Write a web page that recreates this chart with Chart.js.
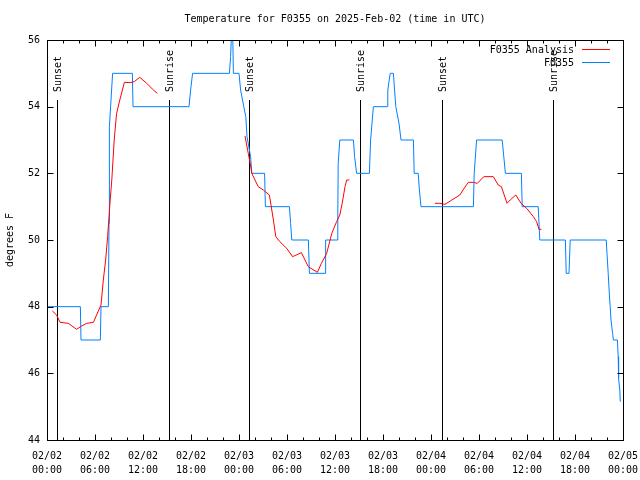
<!DOCTYPE html>
<html>
<head>
<meta charset="utf-8">
<script src="https://cdn.jsdelivr.net/npm/chart.js@4.4.1/dist/chart.umd.min.js"></script>
<style>
  body { margin: 0; background: #fff; }
  canvas { display: block; }
</style>
</head>
<body>
<canvas id="tempChart" width="640" height="480"></canvas>
<script>
const chartTitle = 'Temperature for F0355 on 2025-Feb-02 (time in UTC)';
const dayLabels = ['02/02', '02/03', '02/04', '02/05'];

// hours since 02/02 00:00 UTC
const obsHours = [0, 4.17, 4.25, 6.67, 6.75, 7.67, 7.75, 7.8, 7.95, 8.2, 10.67, 10.75, 17.75, 17.95, 18.2,
  22.8, 22.95, 23.1, 23.2, 23.3, 24, 24.2, 24.6, 24.85, 25.0, 25.45, 25.6, 27.2, 27.3, 30.3, 30.45, 30.6,
  32.67, 32.8, 34.75, 34.83, 36.3, 36.35, 36.4, 36.6, 38.3, 38.45, 38.7, 40.3, 40.45, 40.8, 42.5, 42.6,
  42.9, 43.3, 43.45, 43.6, 44.0, 44.25, 45.8, 45.9, 46.4, 46.55, 46.75, 53.3, 53.4, 53.7, 56.9, 57.3,
  59.3, 59.4, 61.4, 61.6, 64.8, 64.9, 65.25, 65.4, 69.9, 70.0, 70.15, 70.3, 70.4, 70.5, 70.7, 70.8,
  71.3, 71.4, 71.45, 71.6, 71.66];
const obsTemps = [48, 48, 47, 47, 48, 48, 50.5, 53.4, 54, 55, 55, 54, 54, 54.5, 55,
  55, 55.5, 56.4, 56.4, 55, 55, 54.5, 54, 53.7, 53.1, 52.5, 52, 52, 51, 51, 50.5, 50,
  50, 49, 49, 50, 50, 50.8, 52.3, 53, 53, 52.5, 52, 52, 53, 54, 54, 54.5,
  55, 55, 54.5, 54, 53.5, 53, 53, 52, 52, 51.5, 51, 51, 52, 53, 53, 52,
  52, 51, 51, 50, 50, 49, 49, 50, 50, 49.6, 49, 48.35, 48, 47.6, 47.2, 47,
  47, 46.5, 45.85, 45.5, 45.15];

const anaHours = [0.67, 1.2, 1.63, 2.67, 3.7, 4.33, 4.96, 5.8, 6.2, 6.75, 7.04, 7.33, 7.58, 7.9, 8.1,
  8.4, 8.7, 9.1, 9.67, 10.4, 10.9, 11.6, 12.46, 13.3, 13.8,
  20,
  24.75, 25.16, 25.4, 25.6, 26.4, 27.04, 27.8, 28.1, 28.3, 28.6, 29.1, 29.96, 30.7, 31.8, 32.66, 33.8,
  34.3, 34.96, 35.6, 36.2, 36.6, 36.9, 37.25, 37.46, 37.8,
  44,
  48.5, 49.1, 49.75, 50.4, 51.6, 52.0, 52.66, 53.3, 53.8, 54.6, 55.8, 56.4, 56.8, 57.5, 57.9, 58.6,
  59.25, 59.96, 60.8, 61.2, 61.5, 61.8];
const anaTemps = [47.87, 47.75, 47.53, 47.5, 47.32, 47.42, 47.5, 47.53, 47.75, 48.05, 48.8, 49.4, 50.1, 51.2, 51.8,
  53.0, 53.8, 54.2, 54.73, 54.72, 54.75, 54.88, 54.7, 54.5, 54.4,
  null,
  53.12, 52.6, 52.3, 52.0, 51.6, 51.5, 51.35, 50.9, 50.6, 50.1, 49.95, 49.75, 49.5, 49.62, 49.2, 49.03,
  49.3, 49.6, 50.2, 50.55, 50.75, 51.1, 51.6, 51.8, 51.8,
  null,
  51.1, 51.1, 51.07, 51.17, 51.35, 51.5, 51.73, 51.73, 51.7, 51.9, 51.9, 51.65, 51.6, 51.1, 51.2, 51.35,
  51.1, 50.95, 50.7, 50.55, 50.32, 50.32];

const sunHours = [1.28, 15.27, 25.28, 39.17, 49.32, 63.2];
const sunLabels = ['Sunset', 'Sunrise', 'Sunset', 'Sunrise', 'Sunset', 'Sunrise'];

const monoFont = '10px "DejaVu Sans Mono", monospace';
Chart.defaults.font.family = '"DejaVu Sans Mono", monospace';
Chart.defaults.font.size = 10;
Chart.defaults.color = '#000';

function toPoints(xs, ys) {
    return xs.map((x, i) => ({ x: x, y: ys[i] }));
}

function pad2(n) {
    return String(n).padStart(2, '0');
}

// gnuplot style frame, inward ticks, sun lines, title and key
const gnuplotDecor = {
    id: 'gnuplotDecor',
    beforeDatasetsDraw(chart) {
        const c = chart.ctx;
        const xs = chart.scales.x;
        const a = chart.chartArea;
        c.save();
        c.strokeStyle = '#000';
        c.lineWidth = 1;
        c.fillStyle = '#000';
        c.font = monoFont;
        sunHours.forEach((h, i) => {
            const px = Math.round(xs.getPixelForValue(h)) + 0.5;
            c.beginPath();
            c.moveTo(px, 100);
            c.lineTo(px, a.bottom);
            c.stroke();
            c.save();
            c.translate(px + 1, 92);
            c.rotate(-Math.PI / 2);
            c.textAlign = 'left';
            c.textBaseline = 'middle';
            c.fillText(sunLabels[i], 0, 0);
            c.restore();
        });
        c.restore();
    },
    afterDraw(chart) {
        const c = chart.ctx;
        const xs = chart.scales.x;
        const ys = chart.scales.y;
        const a = chart.chartArea;
        c.save();
        c.strokeStyle = '#000';
        c.fillStyle = '#000';
        c.lineWidth = 1;
        const L = Math.round(a.left) + 0.5, R = Math.round(a.right) + 0.5;
        const T = Math.round(a.top) + 0.5, B = Math.round(a.bottom) + 0.5;
        c.beginPath();
        for (let h = 0; h <= 72; h += 2) {
            const px = Math.round(xs.getPixelForValue(h)) + 0.5;
            const len = h % 6 === 0 ? 6 : 3;
            c.moveTo(px, B); c.lineTo(px, B - len);
            c.moveTo(px, T); c.lineTo(px, T + len);
        }
        for (let v = 44; v <= 56; v += 2) {
            const py = Math.round(ys.getPixelForValue(v)) + 0.5;
            c.moveTo(L, py); c.lineTo(L + 6, py);
            c.moveTo(R, py); c.lineTo(R - 6, py);
        }
        c.stroke();
        c.strokeRect(L, T, R - L, B - T);

        c.font = monoFont;
        c.textAlign = 'center';
        c.textBaseline = 'middle';
        c.fillText(chartTitle, 335, 19);

        c.save();
        c.translate(10, 240);
        c.rotate(-Math.PI / 2);
        c.fillText('degrees F', 0, 0);
        c.restore();

        // key
        c.textAlign = 'right';
        chart.data.datasets.forEach((ds, i) => {
            const y = 50 + i * 13;
            c.fillStyle = '#000';
            c.fillText(ds.label, 574, y);
            c.strokeStyle = ds.borderColor;
            c.beginPath();
            c.moveTo(582, y - 0.5);
            c.lineTo(610, y - 0.5);
            c.stroke();
        });
        c.restore();
    }
};

new Chart(document.getElementById('tempChart'), {
    type: 'line',
    data: {
        datasets: [
            {
                label: 'F0355 Analysis',
                data: toPoints(anaHours, anaTemps),
                borderColor: '#ff0000',
                borderWidth: 1,
                pointRadius: 0,
                tension: 0,
                spanGaps: false
            },
            {
                label: 'F0355',
                data: toPoints(obsHours, obsTemps),
                borderColor: '#0080ff',
                borderWidth: 1,
                pointRadius: 0,
                tension: 0
            }
        ]
    },
    options: {
        responsive: false,
        animation: false,
        layout: { padding: { left: 0, right: 17, top: 40, bottom: 0 } },
        plugins: {
            legend: { display: false },
            title: { display: false },
            tooltip: { enabled: false }
        },
        scales: {
            x: {
                type: 'linear',
                min: 0,
                max: 72,
                grid: { display: false, drawTicks: false },
                border: { display: false },
                ticks: {
                    stepSize: 6,
                    padding: 9,
                    maxRotation: 0,
                    autoSkip: false,
                    font: { lineHeight: 1.4 },
                    callback: (v) => [dayLabels[Math.floor(v / 24)], pad2(v % 24) + ':00']
                },
                afterFit: (s) => { s.height = 40; s.paddingLeft = 0; s.paddingRight = 0; }
            },
            y: {
                min: 44,
                max: 56,
                grid: { display: false, drawTicks: false },
                border: { display: false },
                ticks: { stepSize: 2, padding: 7 },
                afterFit: (s) => { s.width = 47; s.paddingTop = 0; s.paddingBottom = 0; }
            }
        }
    },
    plugins: [gnuplotDecor]
});
</script>
</body>
</html>
